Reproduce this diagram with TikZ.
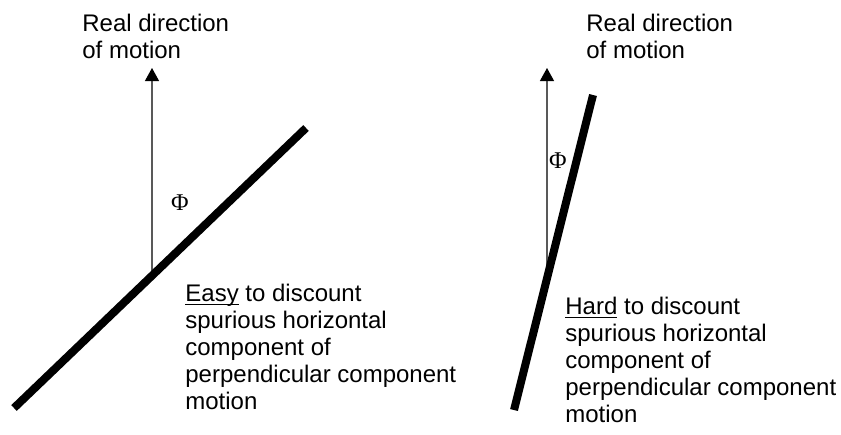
\documentclass[tikz,border=0pt]{standalone}
\usepackage{fontspec}
\setmainfont{Liberation Sans}
\newfontfamily\phifont{Liberation Serif}
\usetikzlibrary{arrows.meta, positioning, calc}

\begin{document}
\begin{tikzpicture}[
      x=0.5pt, y=-0.5pt,
      bar/.style={line width=4pt},
      arr/.style={-{Triangle[length=6.5pt, width=7pt]}, line width=0.6pt},
      lbl/.style={anchor=north west, inner sep=0pt, align=left,
        font=\fontsize{12}{13.5}\selectfont},
      ang/.style={inner sep=0pt, font=\phifont\fontsize{12}{14}\selectfont}
    ]
    \useasboundingbox (0,0) rectangle (841,434);
    % easy case
    \coordinate (easyA) at (14,408);
    \coordinate (easyB) at (306,128);
    \coordinate (easyX) at ($(easyA)!0.4726!(easyB)$);
    \coordinate (easyTip) at (152,68);
    \draw[arr] (easyX) -- (easyTip);
    \draw[bar] (easyA) -- (easyB);
    \node[ang] (easyPhi) at (180,203) {Φ};
    \node[lbl] (easyTop) at (82,14) {Real direction\\of motion};
    \node[lbl] (easyTxt) at (185,284) {\underline{\smash{Easy}} to discount\\spurious horizontal\\component of\\perpendicular component\\motion};
    % hard case
    \coordinate (hardA) at (514,410);
    \coordinate (hardB) at (593,95);
    \coordinate (hardX) at ($(hardA)!0.418!(hardB)$);
    \coordinate (hardTip) at (547,68);
    \draw[arr] (hardX) -- (hardTip);
    \draw[bar] (hardA) -- (hardB);
    \node[ang] (hardPhi) at (558,161) {Φ};
    \node[lbl] (hardTop) at (586,14) {Real direction\\of motion};
    \node[lbl] (hardTxt) at (565,297) {\underline{\smash{Hard}} to discount\\spurious horizontal\\component of\\perpendicular component\\motion};
  \end{tikzpicture}
\end{document}
